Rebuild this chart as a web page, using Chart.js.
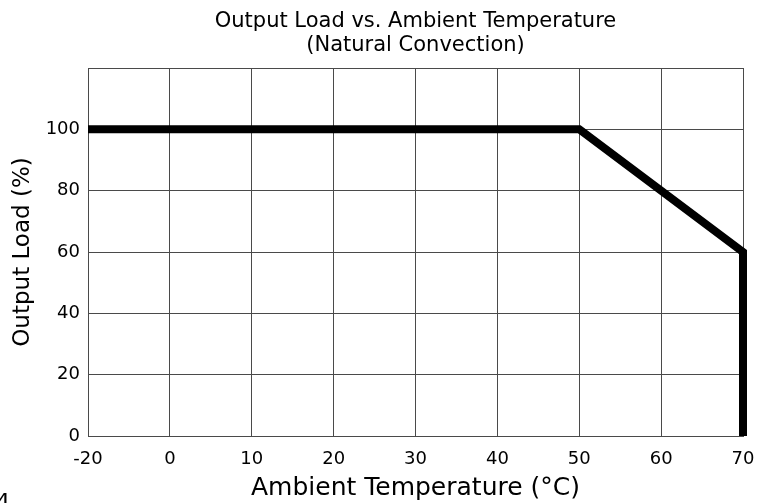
<!DOCTYPE html>
<html>
<head>
<meta charset="utf-8">
<script src="https://cdn.jsdelivr.net/npm/chart.js@4.4.1/dist/chart.umd.min.js"></script>
<style>
html,body{margin:0;padding:0;background:#fff;overflow:hidden;}
#wrap{position:relative;width:759px;height:503px;overflow:hidden;}
#note{position:absolute;left:-4px;top:491px;font-family:"DejaVu Sans";font-size:22px;color:#000;line-height:1;}
</style>
</head>
<body>
<div id="wrap">
<canvas id="c" width="759" height="503"></canvas>
<div id="note">4</div>
</div>
<script>
const titleLines = ['Output Load vs. Ambient Temperature', '(Natural Convection)'];
const xTitle = 'Ambient Temperature (°C)';
const yTitle = 'Output Load (%)';
const tempLabels = ['-20', '0', '10', '20', '30', '40', '50', '60', '70'];
const curveTemps = ['-20', '50', '70', '70'];
const curveLoads = [100, 100, 60, 0];
const yTicks = [0, 20, 40, 60, 80, 100];
const yMin = 0, yMax = 120;

const FONT = 'DejaVu Sans';
const GRID = '#4a4a4a';

new Chart(document.getElementById('c'), {
  type: 'line',
  data: {
    labels: tempLabels,
    datasets: [{
      data: curveTemps.map((t, i) => ({x: t, y: curveLoads[i]})),
      borderColor: '#000',
      borderWidth: 8,
      borderCapStyle: 'butt',
      borderJoinStyle: 'miter',
      pointRadius: 0,
      fill: false,
      tension: 0,
      clip: 10
    }]
  },
  options: {
    responsive: false,
    animation: false,
    layout: {padding: {left: 0, right: 16, top: 0, bottom: 0}},
    plugins: {
      legend: {display: false},
      tooltip: {enabled: false},
      title: {display: false}
    },
    scales: {
      x: {
        type: 'category',
        offset: false,
        grid: {color: GRID, lineWidth: 1, drawTicks: false},
        border: {color: GRID, width: 1},
        ticks: {color: '#000', font: {family: FONT, size: 18}, padding: 13, maxRotation: 0, autoSkip: false},
        title: {display: true, text: xTitle, color: '#000', font: {family: FONT, size: 25, lineHeight: 1.2}, padding: {top: 0, bottom: 0}},
        afterFit: s => { s.height = 67; s.paddingLeft = 0; s.paddingRight = 0; }
      },
      top: {
        type: 'category',
        position: 'top',
        offset: false,
        grid: {display: false, drawTicks: false},
        border: {display: false},
        ticks: {display: false},
        title: {display: true, text: titleLines, color: '#000', font: {family: FONT, size: 21, lineHeight: 24 / 21}, padding: {top: 10, bottom: 0}},
        afterFit: s => { s.height = 68; s.paddingLeft = 0; s.paddingRight = 0; }
      },
      y: {
        type: 'linear',
        min: yMin, max: yMax,
        afterBuildTicks: s => { s.ticks = yTicks.concat([yMax]).map(v => ({value: v})); },
        grid: {color: GRID, lineWidth: 1, drawTicks: false},
        border: {color: GRID, width: 1},
        ticks: {color: '#000', font: {family: FONT, size: 18}, padding: 8,
          callback: v => yTicks.includes(v) ? String(v) : ''},
        title: {display: true, text: yTitle, color: '#000', font: {family: FONT, size: 23, lineHeight: 1.2}, padding: {top: 9, bottom: 0}},
        afterFit: s => { s.width = 88; }
      }
    }
  }
});
</script>
</body>
</html>
